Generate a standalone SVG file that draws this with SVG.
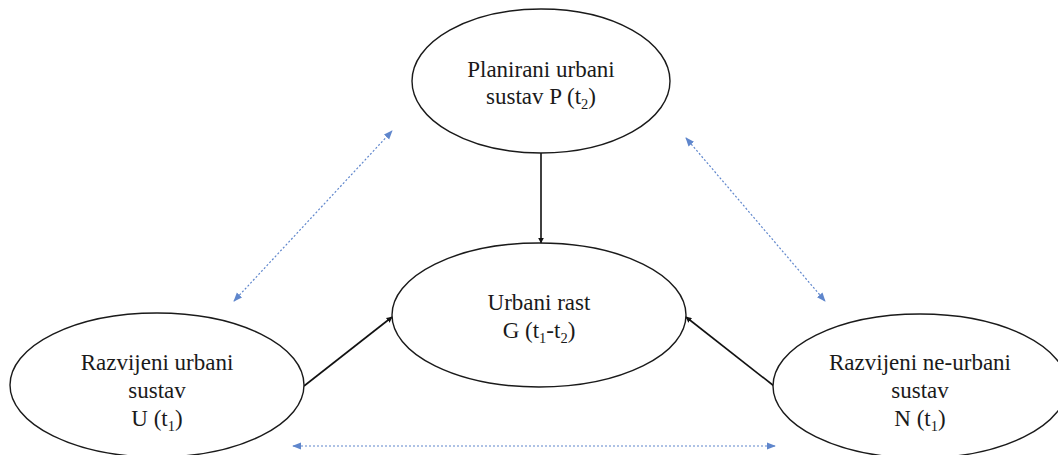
<svg xmlns="http://www.w3.org/2000/svg" width="1058" height="455" viewBox="0 0 1058 455">
  <style>
    .node ellipse { fill: #ffffff; stroke: #1a1a1a; stroke-width: 1.4; }
    .node text { font-family: "Liberation Serif", "Times New Roman", serif; font-size: 23px; fill: #1a1a1a; text-anchor: middle; }
    .sub { font-size: 14.5px; }
    .flow { stroke: #111111; stroke-width: 1.6; fill: none; }
    .link { stroke: #4472C4; stroke-width: 1.2; stroke-dasharray: 2 2; fill: none; opacity: 0.85; }
  </style>
  <defs>
    <marker id="blackHead" viewBox="0 0 10 10" refX="9" refY="5" markerWidth="6" markerHeight="6" markerUnits="userSpaceOnUse" orient="auto">
      <path d="M0,0 L10,5 L0,10 Z" fill="#111111"/>
    </marker>
    <marker id="blueHead" viewBox="0 0 10 10" refX="9" refY="5" markerWidth="9" markerHeight="9" markerUnits="userSpaceOnUse" orient="auto-start-reverse">
      <path d="M0,1 L10,5 L0,9 Z" fill="#4472C4"/>
    </marker>
  </defs>

  <!-- relations between the three systems -->
  <g id="connectors">
    <line class="flow" x1="541" y1="153" x2="541" y2="243" marker-end="url(#blackHead)"/>
    <line class="flow" x1="304" y1="386" x2="392" y2="317" marker-end="url(#blackHead)"/>
    <line class="flow" x1="774" y1="386" x2="686" y2="317" marker-end="url(#blackHead)"/>
    <line class="link" x1="234" y1="301" x2="392" y2="131" marker-start="url(#blueHead)" marker-end="url(#blueHead)"/>
    <line class="link" x1="686" y1="138" x2="825" y2="301" marker-start="url(#blueHead)" marker-end="url(#blueHead)"/>
    <line class="link" x1="293" y1="446" x2="775" y2="446" marker-start="url(#blueHead)" marker-end="url(#blueHead)"/>
  </g>

  <g id="planned" class="node">
    <ellipse cx="541" cy="81" rx="129" ry="72"/>
    <text x="541" y="77">Planirani urbani</text>
    <text x="541" y="104">sustav P (t<tspan class="sub" dy="5">2</tspan><tspan dy="-5">)</tspan></text>
  </g>

  <g id="growth" class="node">
    <ellipse cx="539" cy="315" rx="147" ry="72"/>
    <text x="539" y="310">Urbani rast</text>
    <text x="539" y="338">G (t<tspan class="sub" dy="5">1</tspan><tspan dy="-5">-t</tspan><tspan class="sub" dy="5">2</tspan><tspan dy="-5">)</tspan></text>
  </g>

  <g id="urban" class="node">
    <ellipse cx="157" cy="385" rx="147" ry="72"/>
    <text x="157" y="370">Razvijeni urbani</text>
    <text x="157" y="398">sustav</text>
    <text x="157" y="426">U (t<tspan class="sub" dy="5">1</tspan><tspan dy="-5">)</tspan></text>
  </g>

  <g id="nonurban" class="node">
    <ellipse cx="920" cy="386" rx="147" ry="72"/>
    <text x="920" y="370">Razvijeni ne-urbani</text>
    <text x="920" y="398">sustav</text>
    <text x="920" y="426">N (t<tspan class="sub" dy="5">1</tspan><tspan dy="-5">)</tspan></text>
  </g>
</svg>
